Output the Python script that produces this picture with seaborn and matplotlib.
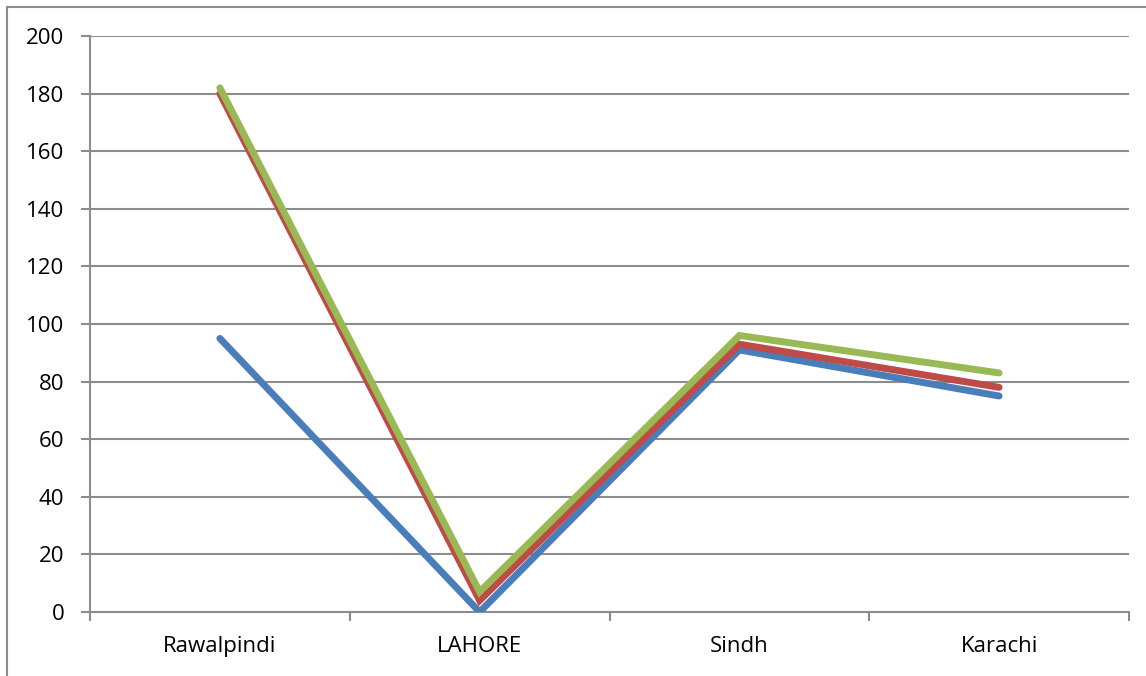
import matplotlib
matplotlib.use("Agg")
import matplotlib.pyplot as plt
import seaborn as sns
import pandas as pd

# Regional figures for three series
regions = ["Rawalpindi", "LAHORE", "Sindh", "Karachi"]
series_blue = [95, 0, 91, 75]
series_red = [180, 4, 93, 78]
series_green = [182, 7, 96, 83]
y_ticks = [0, 20, 40, 60, 80, 100, 120, 140, 160, 180, 200]

series_names = ["Series1", "Series2", "Series3"]
colors = ["#4A7EBB", "#BE4B48", "#98B954"]

rows = []
for name, vals in zip(series_names, [series_blue, series_red, series_green]):
    for i, (reg, v) in enumerate(zip(regions, vals)):
        rows.append({"pos": i, "region": reg, "value": v, "series": name})
df = pd.DataFrame(rows)

sns.set_theme(style="white")
plt.rcParams["font.family"] = ["Open Sans", "DejaVu Sans"]

fig = plt.figure(figsize=(11.46, 6.76), dpi=100)
ax = fig.add_axes([90 / 1146, 1 - 612 / 676, (1129 - 90) / 1146, (612 - 36) / 676])

grid_color = "#8C8C8C"
for t in y_ticks[1:]:
    ax.axhline(t, color=grid_color, lw=1.5, zorder=1)

sns.lineplot(data=df, x="pos", y="value", hue="series", palette=colors,
             hue_order=series_names, linewidth=5, legend=False, ax=ax,
             sort=False, zorder=3)
for line in ax.get_lines():
    line.set_solid_capstyle("round")
    line.set_solid_joinstyle("miter")

ax.set_xlim(-0.5, len(regions) - 0.5)
ax.set_ylim(0, 200)
ax.set_yticks(y_ticks)
ax.set_yticklabels([str(t) for t in y_ticks])

# Category boundaries carry the tick marks; labels sit at category centres
ax.set_xticks([i - 0.5 for i in range(len(regions) + 1)])
ax.set_xticklabels([""] * (len(regions) + 1))
ax.set_xticks(range(len(regions)), minor=True)
ax.set_xticklabels(regions, minor=True)
ax.tick_params(axis="x", which="major", length=6.5, width=1.5, color=grid_color,
               direction="out", bottom=True)
ax.tick_params(axis="x", which="minor", length=0, pad=17, labelsize=16,
               labelcolor="black")
ax.tick_params(axis="y", which="major", length=6.5, width=1.5, color=grid_color,
               direction="out", left=True, pad=12, labelsize=16,
               labelcolor="black")

ax.set_xlabel("")
ax.set_ylabel("")
for s in ["top", "right"]:
    ax.spines[s].set_visible(False)
for s in ["left", "bottom"]:
    ax.spines[s].set_color(grid_color)
    ax.spines[s].set_linewidth(1.5)
ax.grid(False)

# Outer chart frame (top and left edges)
fig.add_artist(plt.Line2D([7 / 1146, 1.0], [1 - 7 / 676, 1 - 7 / 676],
                          transform=fig.transFigure, color="#8C8C8C", lw=1.5))
fig.add_artist(plt.Line2D([7 / 1146, 7 / 1146], [0.0, 1 - 7 / 676],
                          transform=fig.transFigure, color="#8C8C8C", lw=1.5))

fig.savefig("out.png", dpi=100)
